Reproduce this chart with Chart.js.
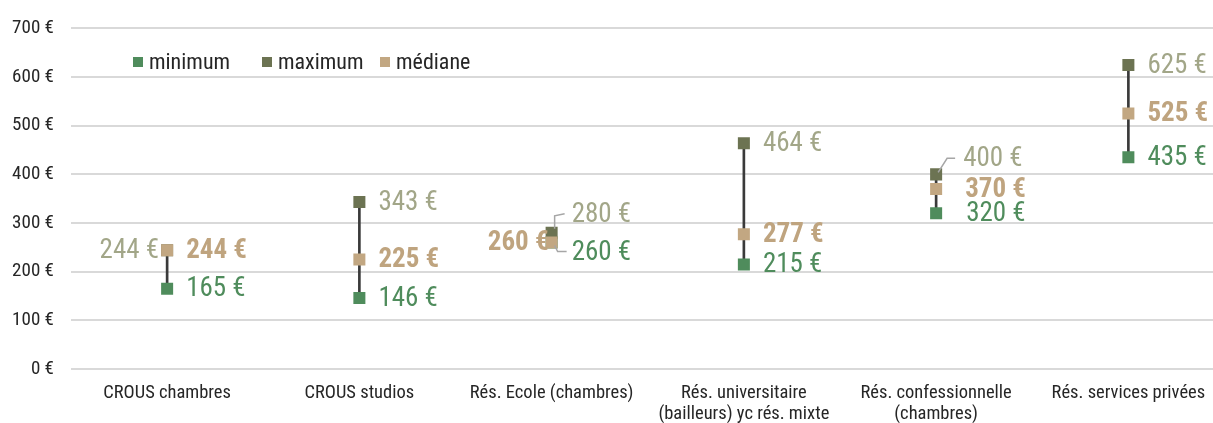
<!DOCTYPE html>
<html>
<head>
<meta charset="utf-8">
<script src="https://cdn.jsdelivr.net/npm/chart.js@4.4.1/dist/chart.umd.min.js"></script>
<style>
    body { margin: 0; background: #fff; overflow: hidden; }
    #wrap { position: relative; width: 1213px; height: 423px; overflow: hidden; }
    #legend { position: absolute; left: 0; top: 49px; font: 22px "Roboto Condensed", "Liberation Sans Narrow", "DejaVu Sans Condensed", Roboto, sans-serif; color: #262626; }
    #legend span { position: absolute; display: flex; align-items: center; white-space: nowrap; }
    #legend i { display: inline-block; width: 10px; height: 10px; margin-right: 6px; }
</style>
</head>
<body>
<div id="wrap">
    <canvas id="chart" width="1233" height="423"></canvas>
    <div id="legend"></div>
</div>
<script>
const categories = [
    "CROUS chambres",
    "CROUS studios",
    "Rés. Ecole (chambres)",
    ["Rés. universitaire", "(bailleurs) yc rés. mixte"],
    ["Rés. confessionnelle", "(chambres)"],
    "Rés. services privées"
];
const minimum = [165, 146, 260, 215, 320, 435];
const maximum = [244, 343, 280, 464, 400, 625];
const mediane = [244, 225, 260, 277, 370, 525];
const yTicks = [0, 100, 200, 300, 400, 500, 600, 700];

const FONT = '"Roboto Condensed", "Liberation Sans Narrow", "DejaVu Sans Condensed", Roboto, sans-serif';

const series = [
    {key: "min", label: "minimum", data: minimum, marker: "#4f8c5c", text: "#4f8c5c", bold: false},
    {key: "max", label: "maximum", data: maximum, marker: "#6c7352", text: "#a2a688", bold: false},
    {key: "med", label: "médiane", data: mediane, marker: "#c2a782", text: "#bfa47f", bold: true}
];
const legendX = [133, 262, 380];

// placements particulières des étiquettes (chevauchements)
const placement = {
    "max-0": {align: "left", dx: -8},
    "max-2": {dx: 20, dy: -19, leader: [[3, -4], [3, -17], [13, -19]]},
    "max-4": {dx: 27, dy: -16, leader: [[2, -2], [11, -16], [19, -16]]},
    "med-2": {align: "left", dx: -3},
    "med-4": {dx: 29},
    "min-2": {dx: 20, dy: 10, leader: [[3, 3], [6, 9], [15, 9]]},
    "min-4": {dx: 30}
};

const legendDiv = document.getElementById("legend");
series.forEach((s, i) => {
    legendDiv.innerHTML += `<span style="left:${legendX[i]}px"><i style="background:${s.marker}"></i>${s.label}</span>`;
});

const etiquettes = {
    id: "etiquettes",
    afterDatasetsDraw(chart) {
        const ctx = chart.ctx;
        ctx.save();
        ctx.textBaseline = "middle";
        series.forEach((s, si) => {
            const meta = chart.getDatasetMeta(si + 1);
            meta.data.forEach((pt, i) => {
                const p = placement[s.key + "-" + i] || {};
                const dx = p.dx !== undefined ? p.dx : 19;
                const dy = p.dy || 0;
                if (p.leader) {
                    ctx.strokeStyle = "#a6a6a6";
                    ctx.lineWidth = 1.5;
                    ctx.beginPath();
                    p.leader.forEach((c, k) => {
                        if (k === 0) ctx.moveTo(pt.x + c[0], pt.y + c[1]);
                        else ctx.lineTo(pt.x + c[0], pt.y + c[1]);
                    });
                    ctx.stroke();
                }
                ctx.font = (s.bold ? "bold " : "") + "27px " + FONT;
                ctx.fillStyle = s.text;
                ctx.textAlign = p.align === "left" ? "right" : "left";
                ctx.fillText(s.data[i] + " €", pt.x + dx, pt.y + dy + 1);
            });
        });
        ctx.restore();
    }
};

const datasets = [{
    type: "bar",
    label: "etendue",
    data: minimum.map((v, i) => [v, maximum[i]]),
    backgroundColor: "#3a3a3a",
    barThickness: 2,
    order: 10
}];
series.forEach((s, i) => {
    datasets.push({
        type: "line",
        label: s.label,
        data: s.data,
        showLine: false,
        pointStyle: "rect",
        pointRadius: 8.5,
        pointHoverRadius: 8.5,
        pointBackgroundColor: s.marker,
        pointBorderWidth: 0,
        order: 3 - i
    });
});

new Chart(document.getElementById("chart"), {
    data: {labels: categories, datasets: datasets},
    options: {
        responsive: false,
        animation: false,
        layout: {padding: {top: 16, right: 0, left: 1, bottom: 0}},
        plugins: {legend: {display: false}, tooltip: {enabled: false}},
        scales: {
            x: {
                offset: true,
                afterFit: axis => { axis.height = 54; },
                grid: {display: false},
                border: {display: false},
                ticks: {color: "#262626", font: {family: FONT, size: 18.5, lineHeight: 1.12}, maxRotation: 0, autoSkip: false, padding: 6}
            },
            y: {
                min: 0,
                max: 700,
                afterBuildTicks: axis => { axis.ticks = yTicks.map(v => ({value: v})); },
                afterFit: axis => { axis.width = 70; },
                grid: {color: "#d9d9d9", lineWidth: 2, drawTicks: false},
                border: {display: false},
                ticks: {color: "#262626", font: {family: FONT, size: 19}, padding: 17, callback: v => v + " €"}
            }
        }
    },
    plugins: [etiquettes]
});
</script>
</body>
</html>
